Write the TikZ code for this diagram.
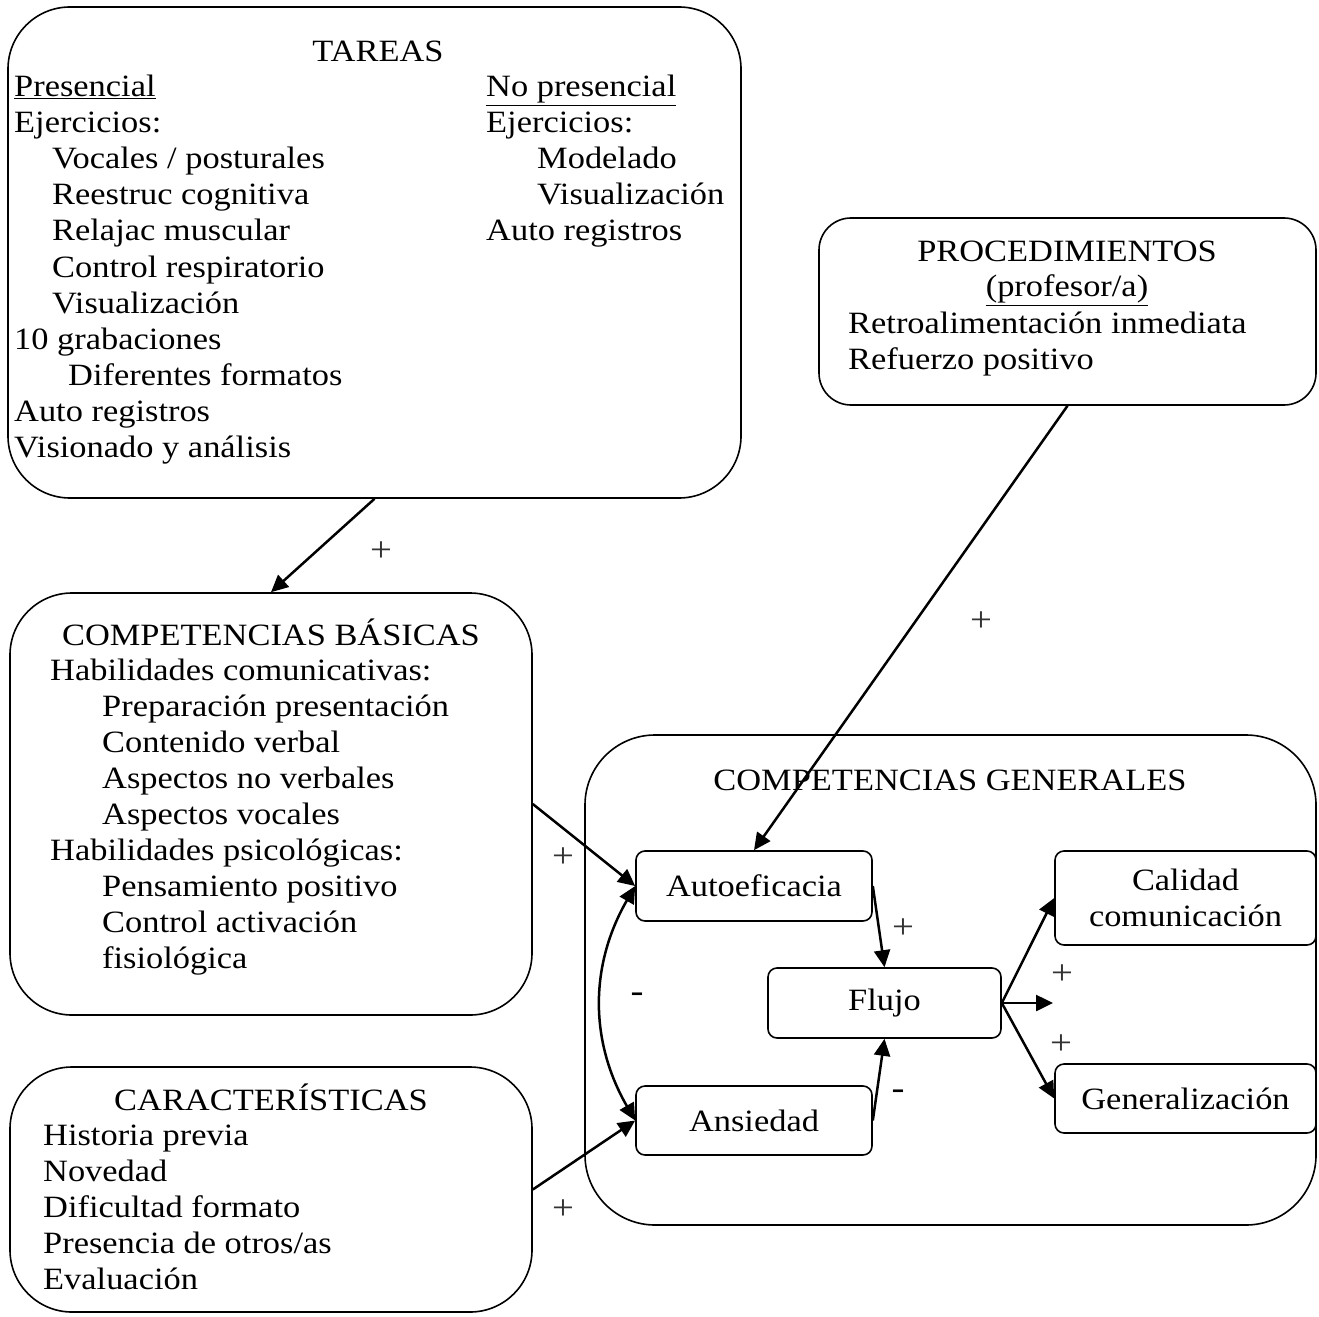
\documentclass[tikz,border=0pt]{standalone}
\usepackage{fontspec}
\setmainfont{Liberation Serif}[FakeStretch=1.11]
\usetikzlibrary{arrows.meta}

\begin{document}
\begin{tikzpicture}[x=1bp,y=-1bp,
    every node/.style={font=\fontsize{31bp}{36bp}\selectfont},
    bigbox/.style={draw,line width=1.6bp,rounded corners=#1,inner sep=0pt},
    smallbox/.style={draw,line width=1.6bp,rounded corners=9bp,inner sep=0pt,align=center},
    body/.style={anchor=base west,align=left,inner sep=0pt},
    title/.style={anchor=base,inner sep=0pt},
    sign/.style={inner sep=0pt,font=\fontsize{35bp}{36bp}\selectfont,text=black!80},
    arr/.style={line width=2.5bp,-{Triangle[length=17bp,width=16bp]}}]
    \useasboundingbox (0,0) rectangle (1319,1317);
    % boxes
    \node[bigbox=62bp,minimum width=733bp,minimum height=491bp] (tareas) at (374.5,252.5) {};
    \node[bigbox=62bp,minimum width=522bp,minimum height=422bp] (cbas) at (271,804) {};
    \node[bigbox=62bp,minimum width=522bp,minimum height=245bp] (caract) at (271,1189.5) {};
    \node[bigbox=32bp,minimum width=497bp,minimum height=187bp] (proc) at (1067.5,311.5) {};
    \node[bigbox=70bp,minimum width=731bp,minimum height=490bp] (cgen) at (950.5,980) {};
    % box texts (multi-line nodes sit on their last baseline)
    \node[title] (tareastit) at (378,62) {TAREAS};
    \node[body] (tareasizq) at (14,457) {\underline{Presencial}\\Ejercicios:\\
        \hspace*{38bp}Vocales / posturales\\\hspace*{38bp}Reestruc cognitiva\\
        \hspace*{38bp}Relajac muscular\\\hspace*{38bp}Control respiratorio\\
        \hspace*{38bp}Visualización\\10 grabaciones\\\hspace*{54bp}Diferentes formatos\\
        Auto registros\\Visionado y análisis};
    \node[body] (tareasder) at (486,241) {\underline{No presencial}\\Ejercicios:\\
        \hspace*{51bp}Modelado\\\hspace*{51bp}Visualización\\Auto registros};
    \node[title] (cbastit) at (271,645) {COMPETENCIAS BÁSICAS};
    \node[body] (cbastxt) at (50,968) {Habilidades comunicativas:\\
        \hspace*{52bp}Preparación presentación\\\hspace*{52bp}Contenido verbal\\
        \hspace*{52bp}Aspectos no verbales\\\hspace*{52bp}Aspectos vocales\\
        Habilidades psicológicas:\\\hspace*{52bp}Pensamiento positivo\\
        \hspace*{52bp}Control activación\\\hspace*{52bp}fisiológica};
    \node[title] (caracttit) at (271,1110) {CARACTERÍSTICAS};
    \node[body] (caracttxt) at (43,1289) {Historia previa\\Novedad\\Dificultad formato\\
        Presencia de otros/as\\Evaluación};
    \node[title] (proctit) at (1067,262) {PROCEDIMIENTOS};
    \node[title] (procsub) at (1067,297) {\underline{(profesor/a)}};
    \node[body] (proctxt) at (848,369) {Retroalimentación inmediata\\Refuerzo positivo};
    \node[title] (cgentit) at (950,790) {COMPETENCIAS GENERALES};
    % inner boxes
    \node[smallbox,minimum width=236bp,minimum height=70bp] (autoef) at (754,886) {Autoeficacia};
    \node[smallbox,minimum width=236bp,minimum height=69bp] (ansie) at (754,1120.5) {Ansiedad};
    \node[smallbox,minimum width=233bp,minimum height=70bp] (flujo) at (884.5,1003) {Flujo};
    \node[smallbox,minimum width=261bp,minimum height=94bp] (calidad) at (1185.5,898) {Calidad\\comunicación};
    \node[smallbox,minimum width=261bp,minimum height=69bp] (general) at (1185.5,1098.5) {Generalización};
    \coordinate (flujofin) at (1053,1003);
    % arrows
    \draw[arr] (tareas.south) -- (cbas.north);
    \draw[arr] (proc.south) -- (autoef.north);
    \draw[arr] (cbas.east) -- (autoef.west);
    \draw[arr] (caract.east) -- (ansie.west);
    \draw[arr,{Triangle[length=17bp,width=16bp]}-{Triangle[length=17bp,width=16bp]}] (autoef.west) to[bend right=30] (ansie.west);
    \draw[arr] (autoef.east) -- (flujo.north);
    \draw[arr] (ansie.east) -- (flujo.south);
    \draw[arr] (flujo.east) -- (calidad.west);
    \draw[arr] (flujo.east) -- (flujofin);
    \draw[arr] (flujo.east) -- (general.west);
    % signs
    \node[sign] (s1) at (381,552) {+};
    \node[sign] (s2) at (981,622) {+};
    \node[sign] (s3) at (563,858) {+};
    \node[sign] (s4) at (563,1210) {+};
    \node[sign] (s5) at (903,929) {+};
    \node[sign] (s6) at (1062,975) {+};
    \node[sign] (s7) at (1061,1045) {+};
    \node[sign,text=black] (m1) at (637,998) {-};
    \node[sign,text=black] (m2) at (898,1095) {-};
\end{tikzpicture}
\end{document}
